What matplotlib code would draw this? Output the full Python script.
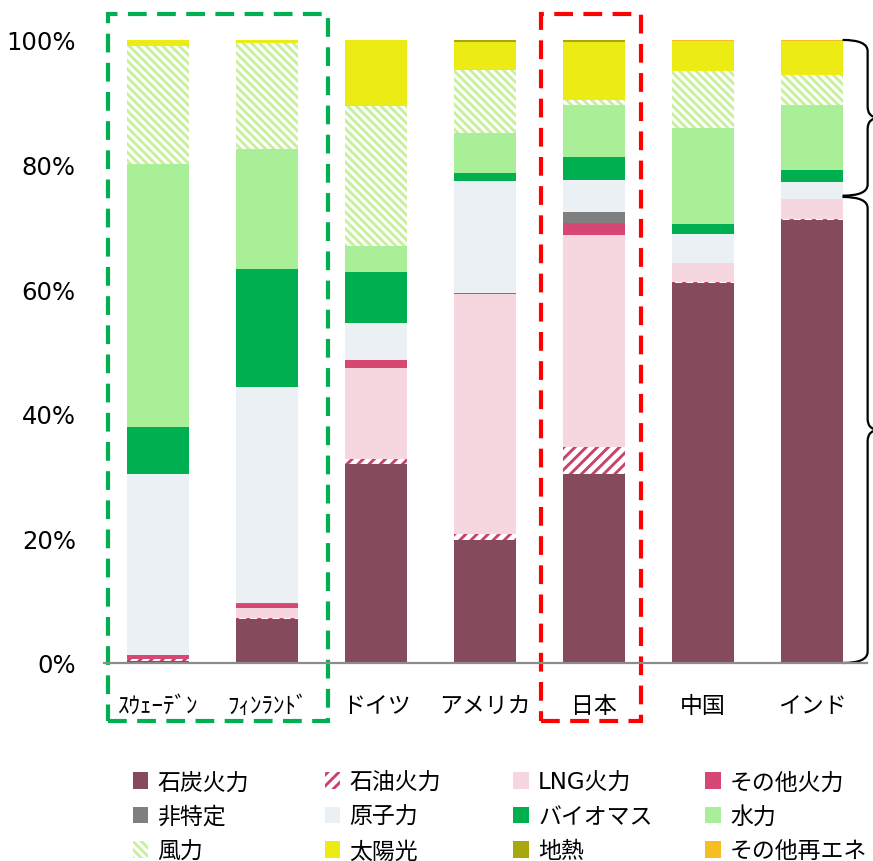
import numpy as np
import matplotlib
matplotlib.use("Agg")
import matplotlib.pyplot as plt
from matplotlib.patches import Rectangle, PathPatch, Patch
from matplotlib.path import Path

plt.rcParams['font.family'] = ['DejaVu Sans', 'Noto Sans CJK JP']
plt.rcParams['hatch.linewidth'] = 2.1

countries = ['ｽｳｪｰﾃﾞﾝ', 'ﾌｨﾝﾗﾝﾄﾞ', 'ドイツ', 'アメリカ', '日本', '中国', 'インド']

# share of generation (%)
coal     = [0.3, 7.1, 31.9, 19.7, 30.4, 61.0, 71.1]
oil      = [0.3, 0.2, 0.8, 1.0, 4.3, 0.2, 0.2]
lng      = [0.1, 1.5, 14.7, 38.5, 34.0, 3.0, 3.1]
other_th = [0.6, 0.6, 1.2, 0.2, 1.9, 0.0, 0.0]
unspec   = [0.0, 0.3, 0.0, 0.0, 1.8, 0.0, 0.0]
nuclear  = [29.0, 34.6, 6.0, 17.9, 5.2, 4.6, 2.8]
biomass  = [7.5, 18.9, 8.2, 1.4, 3.6, 1.7, 2.0]
hydro    = [42.3, 19.3, 4.1, 6.4, 8.3, 15.4, 10.4]
wind     = [19.0, 17.0, 22.5, 10.1, 0.9, 9.1, 4.8]
solar    = [0.9, 0.5, 10.6, 4.4, 9.3, 4.9, 5.5]
geo      = [0.0, 0.0, 0.0, 0.4, 0.3, 0.0, 0.0]
other_re = [0.0, 0.0, 0.0, 0.0, 0.0, 0.1, 0.1]

series = [
    ('石炭火力', coal, '#854a5c', None),
    ('石油火力', oil, '#c9436b', '///'),
    ('LNG火力', lng, '#f6d7e0', None),
    ('その他火力', other_th, '#d64774', None),
    ('非特定', unspec, '#7f7f7f', None),
    ('原子力', nuclear, '#ebf0f4', None),
    ('バイオマス', biomass, '#00b050', None),
    ('水力', hydro, '#a9ef98', None),
    ('風力', wind, '#c8f09c', '\\\\\\\\'),
    ('太陽光', solar, '#ecec14', None),
    ('地熱', geo, '#a6a80e', None),
    ('その他再エネ', other_re, '#f5be22', None),
]

fig = plt.figure(figsize=(8.73, 8.62), dpi=100)
ax = fig.add_axes([0.1186, 0.2297, 0.874, 0.7228])

x = np.arange(len(countries))
bottom = np.zeros(len(countries))
handles = []
for name, vals, col, hatch in series:
    vals = np.array(vals)
    if hatch:
        ax.bar(x, vals, 0.57, bottom=bottom, color='white', edgecolor=col,
               hatch=hatch, linewidth=0)
        h = Patch(facecolor='white', edgecolor=col, hatch=hatch, linewidth=0)
    else:
        ax.bar(x, vals, 0.57, bottom=bottom, color=col, linewidth=0)
        h = Patch(facecolor=col, linewidth=0)
    handles.append((h, name))
    bottom += vals

ax.set_xlim(-0.5, 6.5)
ax.set_ylim(0, 100)
ax.set_yticks([0, 20, 40, 60, 80, 100])
ax.set_yticklabels(['0%', '20%', '40%', '60%', '80%', '100%'], fontsize=17.5)
ax.set_xticks(x)
ax.set_xticklabels(countries, fontsize=16.5,
                   family=['Noto Sans CJK JP', 'DejaVu Sans'])
ax.tick_params(axis='y', length=0, pad=20)
ax.tick_params(axis='x', length=0, pad=22)
for s in ['top', 'right', 'left']:
    ax.spines[s].set_visible(False)
ax.spines['bottom'].set_color('#8c8c8c')
ax.spines['bottom'].set_linewidth(1.6)

# dashed boxes round the groups
ax.add_patch(Rectangle((-0.46, -9.3), 2.02, 113.5, fill=False, edgecolor='#00b050',
                       linewidth=3, linestyle=(0, (4.5, 2.5)), clip_on=False))
ax.add_patch(Rectangle((3.51, -9.3), 0.92, 113.5, fill=False, edgecolor='#ff0000',
                       linewidth=3, linestyle=(0, (4.5, 2.5)), clip_on=False))


def brace(ax, top, bot, x0=6.28, x1=6.51, x2=6.62, r=1.8):
    mid = (top + bot) / 2
    verts = [(x0, top), (x1, top), (x1, top - r),
             (x1, mid + r), (x1, mid), (x2, mid),
             (x1, mid), (x1, mid - r),
             (x1, bot + r), (x1, bot), (x0, bot)]
    codes = [Path.MOVETO, Path.CURVE3, Path.CURVE3,
             Path.LINETO, Path.CURVE3, Path.CURVE3,
             Path.CURVE3, Path.CURVE3,
             Path.LINETO, Path.CURVE3, Path.CURVE3]
    ax.add_patch(PathPatch(Path(verts, codes), fill=False, edgecolor='black',
                           linewidth=1.6, clip_on=False))


brace(ax, 100, 75)
brace(ax, 74.8, 0)

# legend: 4 columns x 3 rows
col_x = [0.152, 0.372, 0.588, 0.808]
for c in range(4):
    hs = [handles[c + 4 * r][0] for r in range(3)]
    ls = [handles[c + 4 * r][1] for r in range(3)]
    fig.legend(hs, ls, loc='upper left', bbox_to_anchor=(col_x[c], 0.105),
               frameon=False, fontsize=16.5, handlelength=0.68, handleheight=0.75,
               handletextpad=0.4, labelspacing=0.5, borderpad=0, borderaxespad=0)

fig.savefig('out.png', dpi=100)
